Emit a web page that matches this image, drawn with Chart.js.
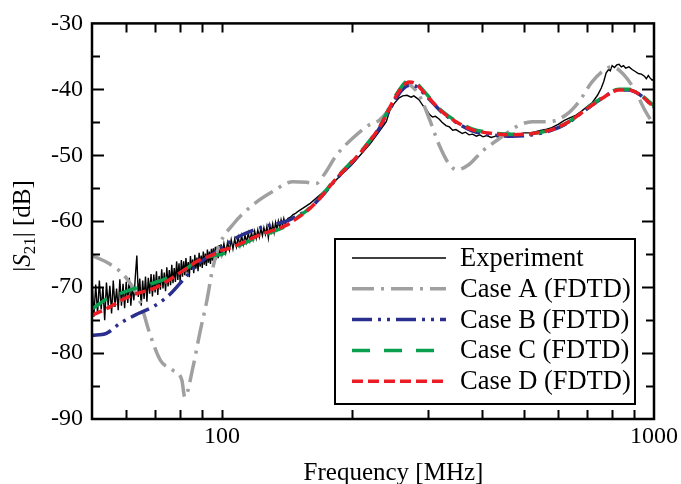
<!DOCTYPE html>
<html>
<head>
<meta charset="utf-8">
<script src="https://cdn.jsdelivr.net/npm/chart.js@4.4.1/dist/chart.umd.min.js"></script>
<style>
  html, body { margin: 0; padding: 0; background: #fff; }
  canvas { display: block; }
</style>
</head>
<body>
<canvas id="s21Chart" width="681" height="484"></canvas>
<script>
const expFreq = [
  50.0,50.5,51.0,51.5,52.0,52.5,53.0,53.5,54.0,54.5,55.0,55.5,56.0,56.5,57.0,57.5,58.0,58.5,59.0,59.5,
  60.0,60.5,61.0,61.5,62.0,62.5,63.0,63.5,64.0,64.5,65.0,65.5,66.0,66.5,67.0,67.5,68.0,68.5,69.0,69.5,
  70.0,70.5,71.0,71.5,72.0,72.5,73.0,73.5,74.0,74.5,75.0,75.5,76.0,76.5,77.0,77.5,78.0,78.5,79.0,79.5,
  80.0,80.5,81.0,81.5,82.0,82.5,83.0,83.5,84.0,84.5,85.0,85.5,86.0,86.5,87.0,87.5,88.0,88.5,89.0,89.5,
  90.0,90.5,91.0,91.5,92.0,92.5,93.0,93.5,94.0,94.5,95.0,95.5,96.0,96.5,97.0,97.5,98.0,98.5,99.0,99.5,
  100,101,102,103,104,105,106,107,108,109,110,111,112,113,114,115,116,117,118,119,
  120,121,122,123,124,125,126,127,128,129,130,131,132,133,134,135,136,137,138,139,
  140,142,144,146,148,150,160,170,180,190,200,210,220,230,240,244,250,257,262,268,
  274,278,282,286,292,297,302,307,312,318,323,330,336,342,348,354,360,366,373,380,
  388,395,402,410,420,430,440,450,460,470,480,500,520,540,560,580,600,620,640,660,
  680,700,720,740,755,765,775,785,792,800,810,820,830,840,850,860,875,890,905,920,
  935,950,960,970,980,990,1000
];
const expDb = [
  -68.5,-74.5,-69.6,-74.0,-69.0,-73.4,-70.0,-75.0,-69.3,-72.8,-69.8,-74.0,-69.0,-73.0,-70.2,-73.5,-68.8,-72.8,-69.5,-73.2,
  -69.2,-72.4,-68.6,-72.8,-69.8,-72.0,-68.3,-65.2,-71.5,-68.7,-72.8,-69.0,-71.8,-68.4,-72.2,-68.6,-71.0,-68.0,-71.4,-68.1,
  -70.8,-67.6,-71.2,-68.3,-70.4,-67.3,-70.2,-67.8,-70.6,-67.0,-69.9,-67.4,-69.7,-66.6,-69.4,-67.1,-69.2,-66.1,-68.9,-66.4,
  -69.2,-65.9,-68.4,-66.1,-68.2,-65.6,-67.8,-66.2,-68.5,-65.3,-67.4,-65.8,-67.9,-65.1,-67.2,-65.5,-67.6,-64.8,-66.9,-65.2,
  -67.1,-64.6,-66.6,-64.9,-66.8,-64.3,-66.3,-64.6,-66.5,-64.2,-66.0,-64.1,-66.2,-63.9,-65.8,-63.8,-65.6,-63.6,-65.3,-63.5,
  -65.0,-63.4,-64.8,-63.2,-64.4,-62.8,-64.2,-62.7,-63.9,-62.4,-63.7,-62.2,-63.5,-62.1,-63.2,-61.8,-63.0,-61.7,-62.8,-61.5,
  -62.6,-61.3,-62.4,-61.1,-62.2,-61.0,-62.0,-60.8,-62.5,-60.6,-61.6,-60.4,-61.7,-60.2,-61.2,-60.0,-61.0,-59.8,-60.7,-59.6,
  -60.4,-59.6,-59.4,-59.0,-58.8,-58.5,-57.3,-55.8,-54.3,-52.8,-51.4,-49.8,-48.3,-46.6,-44.9,-43.4,-42.2,-41.3,-41.0,-40.9,
  -41.2,-41.0,-41.3,-41.6,-42.5,-43.0,-43.8,-44.2,-44.1,-44.5,-45.0,-45.5,-45.7,-46.2,-46.1,-46.4,-46.7,-46.5,-46.9,-46.8,
  -47.1,-46.9,-47.2,-47.0,-47.3,-47.1,-47.3,-47.0,-47.3,-46.9,-46.9,-46.6,-46.6,-46.3,-46.1,-45.8,-45.3,-44.7,-44.3,-43.9,
  -43.3,-42.6,-42.0,-40.9,-39.8,-38.8,-37.5,-37.0,-37.2,-36.4,-36.7,-36.3,-36.2,-36.6,-36.4,-36.8,-36.6,-37.0,-37.3,-37.6,
  -37.7,-38.0,-38.4,-37.9,-38.3,-38.6,-38.5
];

const caseAFreq = [50,55,60,64.5,68,72,77,80.7,82,85.6,88.8,92.2,95.2,98.8,106,118,131,146,157,165,
  172,184,200,219,231,244,257,267,286,302,318,336,350,373,400,438,479,522,571,625,
  670,718,773,799,860,907,957,988,1000];
const caseADb = [-65.2,-66.5,-68.6,-72.1,-77.0,-81.1,-82.6,-84.1,-86.7,-82.2,-77.0,-72.1,-67.1,-63.5,-60.5,-57.5,-55.5,-54.0,-54.1,-54.3,
  -53.0,-50.0,-47.5,-45.4,-44.7,-43.0,-40.4,-39.2,-40.9,-44.5,-48.4,-51.4,-52.2,-51.4,-49.4,-47.5,-45.7,-44.9,-44.9,-43.9,
  -41.9,-38.9,-36.9,-36.6,-38.1,-40.4,-43.4,-44.9,-45.5];

const caseBFreq = [50,54,58,64,70,76,82,88,96,100,106,112,120,131,141,151,157,168,184,200,
  219,235,248,261,271,280,291,307,323,348,379,422,469,522,580,635,695,757,829,874,
  922,988,1000];
const caseBDb = [-77.3,-77.0,-75.5,-74.0,-72.8,-71.0,-68.6,-66.5,-64.8,-64.0,-62.8,-62.0,-61.2,-60.5,-60.0,-59.0,-58.4,-56.6,-53.6,-51.1,
  -48.1,-45.2,-42.3,-40.1,-39.4,-39.5,-40.4,-42.0,-43.5,-45.0,-46.3,-46.9,-47.1,-46.9,-46.2,-45.0,-43.1,-41.4,-40.1,-40.1,
  -40.7,-42.4,-42.7];

const caseCFreq = [50,55,58,62,70,80,88,96,100,103,112,120,131,141,151,157,168,184,200,219,
  235,248,261,271,280,291,307,323,348,379,422,469,522,580,635,695,757,829,874,922,
  988,1000];
const caseCDb = [-73.3,-71.5,-71.0,-70.3,-69.3,-67.8,-66.0,-65.2,-65.0,-64.6,-63.4,-62.5,-61.6,-60.7,-59.2,-58.4,-56.5,-53.4,-50.9,-47.9,
  -44.9,-41.8,-39.5,-38.6,-38.9,-40.0,-41.8,-43.3,-44.8,-46.0,-46.6,-46.8,-46.7,-46.1,-44.9,-43.0,-41.3,-40.0,-40.0,-40.6,
  -42.2,-42.5];

const caseDFreq = [50,55,58,62,70,80,88,96,100,103,112,120,131,141,151,157,168,184,200,219,
  235,248,261,271,280,291,307,323,348,379,422,469,522,580,635,695,757,829,874,922,
  988,1000];
const caseDDb = [-74.3,-73.0,-72.1,-71.2,-70.1,-67.8,-66.0,-65.0,-64.4,-64.2,-63.2,-62.3,-61.4,-60.6,-59.3,-58.5,-56.6,-53.5,-51.0,-48.0,
  -45.0,-42.0,-39.7,-38.9,-39.1,-40.2,-41.9,-43.4,-44.9,-46.1,-46.7,-46.9,-46.7,-46.1,-44.9,-43.1,-41.4,-40.1,-40.1,-40.7,
  -42.4,-42.7];

const xTickLabels = [100, 1000];
const xTickMarks = [60, 70, 80, 90, 100, 200, 300, 400, 500, 600, 700, 800, 900];
const yTickMarks = [-85, -80, -75, -70, -65, -60, -55, -50, -45, -40, -35];

const SERIF = "'Liberation Serif', 'DejaVu Serif', serif";

function pts(freq, db) {
  return freq.map((f, i) => ({ x: f, y: db[i] }));
}

const frameAndLegend = {
  id: 'frameAndLegend',
  afterDatasetsDraw(chart) {
    const { ctx, chartArea: a, scales: { x, y } } = chart;
    ctx.save();

    // axis box + inward ticks on all four sides
    ctx.strokeStyle = '#000';
    ctx.lineWidth = 2.5;
    ctx.strokeRect(a.left, a.top, a.right - a.left, a.bottom - a.top);
    ctx.lineWidth = 2;
    ctx.beginPath();
    xTickMarks.forEach(v => {
      const px = Math.round(x.getPixelForValue(v)) + 0.5;
      ctx.moveTo(px, a.bottom); ctx.lineTo(px, a.bottom - 9);
      ctx.moveTo(px, a.top); ctx.lineTo(px, a.top + 9);
    });
    yTickMarks.forEach(v => {
      const py = Math.round(y.getPixelForValue(v)) + 0.5;
      const len = v % 10 === 0 ? 12 : 8;
      ctx.moveTo(a.left, py); ctx.lineTo(a.left + len, py);
      ctx.moveTo(a.right, py); ctx.lineTo(a.right - len, py);
    });
    ctx.stroke();

    // legend box inside the plot
    const box = { l: 335, t: 239, r: 635, b: 404 };
    ctx.fillStyle = '#fff';
    ctx.fillRect(box.l, box.t, box.r - box.l, box.b - box.t);
    ctx.lineWidth = 2;
    ctx.strokeRect(box.l, box.t, box.r - box.l, box.b - box.t);
    ctx.font = '26.5px ' + SERIF;
    ctx.textBaseline = 'middle';
    ctx.textAlign = 'left';
    chart.data.datasets.forEach((ds, i) => {
      const ry = 258 + i * 30.8;
      ctx.beginPath();
      ctx.setLineDash(ds.borderDash || []);
      ctx.strokeStyle = ds.borderColor;
      ctx.lineWidth = ds.borderWidth;
      ctx.moveTo(352, ry); ctx.lineTo(446, ry);
      ctx.stroke();
      ctx.setLineDash([]);
      ctx.fillStyle = '#000';
      ctx.fillText(ds.label, 460, ry + 1);
    });

    // x axis title
    ctx.fillStyle = '#000';
    ctx.textAlign = 'center';
    ctx.textBaseline = 'alphabetic';
    ctx.font = '25px ' + SERIF;
    ctx.fillText('Frequency [MHz]', 393.5, 480);

    // y axis title |S21| [dB] with italic S and subscript
    const parts = [
      { t: '|', f: '25px ' + SERIF, dy: 0 },
      { t: 'S', f: 'italic 25px ' + SERIF, dy: 0 },
      { t: '21', f: '17px ' + SERIF, dy: 5 },
      { t: '| [dB]', f: '25px ' + SERIF, dy: 0 }
    ];
    let total = 0;
    parts.forEach(p => { ctx.font = p.f; p.w = ctx.measureText(p.t).width; total += p.w; });
    ctx.translate(30, 226);
    ctx.rotate(-Math.PI / 2);
    ctx.textAlign = 'left';
    let cx = -total / 2;
    parts.forEach(p => {
      ctx.font = p.f;
      ctx.fillText(p.t, cx, p.dy);
      cx += p.w;
    });
    ctx.restore();
  }
};

const ctx = document.getElementById('s21Chart').getContext('2d');
new Chart(ctx, {
  type: 'line',
  data: {
    datasets: [
      {
        label: 'Experiment',
        data: pts(expFreq, expDb),
        borderColor: '#000000',
        borderWidth: 1.4,
        tension: 0,
        order: 5
      },
      {
        label: 'Case A (FDTD)',
        data: pts(caseAFreq, caseADb),
        borderColor: '#a0a0a0',
        borderWidth: 3.5,
        borderDash: [22, 7, 3, 7],
        cubicInterpolationMode: 'monotone',
        order: 4
      },
      {
        label: 'Case B (FDTD)',
        data: pts(caseBFreq, caseBDb),
        borderColor: '#2a2f8e',
        borderWidth: 3.5,
        borderDash: [20, 6, 3, 6, 3, 6],
        cubicInterpolationMode: 'monotone',
        order: 3
      },
      {
        label: 'Case C (FDTD)',
        data: pts(caseCFreq, caseCDb),
        borderColor: '#0a9e4f',
        borderWidth: 3.5,
        borderDash: [18, 14],
        cubicInterpolationMode: 'monotone',
        order: 2
      },
      {
        label: 'Case D (FDTD)',
        data: pts(caseDFreq, caseDDb),
        borderColor: '#ec1c24',
        borderWidth: 3.5,
        borderDash: [11, 5],
        cubicInterpolationMode: 'monotone',
        order: 1
      }
    ]
  },
  options: {
    responsive: false,
    devicePixelRatio: 1,
    animation: false,
    elements: { point: { radius: 0 } },
    layout: { padding: { left: 0, top: 21, right: 26, bottom: 0 } },
    plugins: {
      legend: { display: false },
      tooltip: { enabled: false }
    },
    scales: {
      x: {
        type: 'logarithmic',
        min: 50,
        max: 1000,
        grid: { display: false, drawTicks: false },
        border: { display: false },
        afterBuildTicks: axis => { axis.ticks = xTickLabels.map(v => ({ value: v })); },
        afterFit: axis => { axis.height = 65; },
        ticks: {
          color: '#000',
          padding: 3,
          maxRotation: 0,
          font: { family: SERIF, size: 24 },
          callback: v => String(v)
        }
      },
      y: {
        min: -90,
        max: -30,
        grid: { display: false, drawTicks: false },
        border: { display: false },
        afterFit: axis => { axis.width = 92; },
        ticks: {
          stepSize: 10,
          color: '#000',
          padding: 9,
          font: { family: SERIF, size: 24 }
        }
      }
    }
  },
  plugins: [frameAndLegend]
});
</script>
</body>
</html>
